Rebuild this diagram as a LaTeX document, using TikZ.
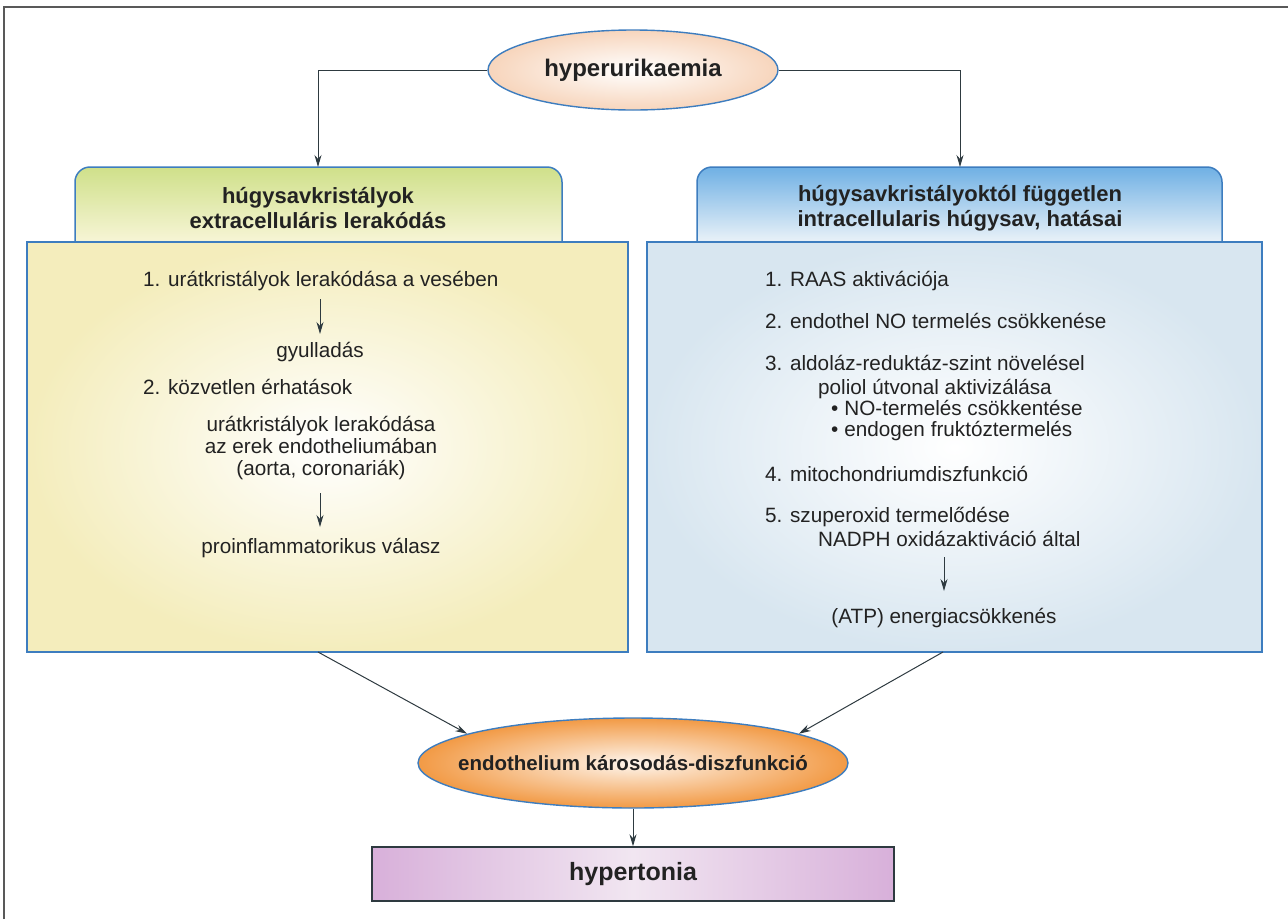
\documentclass[tikz,border=0pt]{standalone}
\usepackage{fontspec}
\setmainfont{Liberation Sans}
\usetikzlibrary{arrows.meta,shapes.geometric}
\definecolor{bblue}{HTML}{3D7DBF}
\definecolor{conn}{HTML}{2E3A40}
\definecolor{peach}{HTML}{F7D5BC}
\definecolor{orng}{HTML}{F29A45}
\definecolor{yel}{HTML}{F4EDBC}
\definecolor{lblue}{HTML}{D8E6F0}
\definecolor{hgreen}{HTML}{CFE08A}
\definecolor{hgreenb}{HTML}{F7F5D6}
\definecolor{hblue}{HTML}{6FB0E4}
\definecolor{hblueb}{HTML}{EAF2F8}
\definecolor{purp}{HTML}{D8B0DA}
\definecolor{purpm}{HTML}{F1E6F1}
\definecolor{txt}{HTML}{222222}
\begin{document}
\begin{tikzpicture}[x=1pt,y=-1pt,
  arr/.style={draw=conn,line width=1pt,-{Stealth[length=12pt,width=7pt]}},
  body/.style={font=\fontsize{20.7}{22}\selectfont,text=txt,inner sep=0pt,text height=14pt,text depth=4pt},
  cbody/.style={body,align=center,text height=,text depth=},
  title/.style={font=\bfseries\fontsize{22}{25}\selectfont,text=txt,align=center,inner sep=0pt},
  mainbox/.style={draw=bblue,line width=1.5pt,shading=radial,inner color=white,minimum width=#1,minimum height=410pt,inner sep=0pt},
  ell/.style={ellipse,draw=bblue,line width=1.4pt,shading=radial,inner sep=0pt},
  elltext/.style={text=txt,inner sep=0pt}
]
\useasboundingbox (0,0) rectangle (1288,919);
% outer frame (top and left only visible)
\draw[draw=gray!70!black,line width=1.4pt] (4,919) -- (4,7) -- (1288,7);

% top ellipse
\node[ell,inner color=white,outer color=peach,minimum width=290pt,minimum height=80pt] (hyp) at (633,70) {};
\node[elltext,font=\bfseries\fontsize{24}{28}\selectfont] (hyptxt) at (hyp.center) {hyperurikaemia};

% headers
\draw[bblue,line width=1.5pt,rounded corners=15pt,top color=hgreen,bottom color=hgreenb]
  (75,242) |- (318,167) -| (562,242);
\draw[bblue,line width=1.5pt,rounded corners=15pt,top color=hblue,bottom color=hblueb]
  (697,242) |- (960,167) -| (1222,242);
\coordinate (hdrLtop) at (318,167);
\coordinate (hdrRtop) at (960,167);
\node[title] (hdrL) at (318,208) {húgysavkristályok\\extracelluláris lerakódás};
\node[title] (hdrR) at (960,208) {húgysavkristályoktól független\\intracellularis húgysav, hatásai};

% main boxes
\node[mainbox=601pt,outer color=yel] (lbox) at (327.5,447) {};
\node[mainbox=615pt,outer color=lblue] (rbox) at (954.5,447) {};

% connectors from top ellipse
\draw[arr] (hyp.west) -| (hdrLtop);
\draw[arr] (hyp.east) -| (hdrRtop);

% left box content
\node[body,anchor=west] (l1) at (143,281) {1. urátkristályok lerakódása a vesében};
\node[cbody] (l1b) at (320,352) {gyulladás};
\node[body,anchor=west] (l2) at (143,389) {2. közvetlen érhatások};
\node[cbody] (l2a) at (321,448) {urátkristályok lerakódása\\az erek endotheliumában\\(aorta, coronariák)};
\node[cbody] (l2b) at (321,548) {proinflammatorikus válasz};
\coordinate (la1) at (320,299);
\coordinate (la2) at (320,334);
\coordinate (lb1) at (320,493);
\coordinate (lb2) at (320,527);
\draw[arr] (la1) -- (la2);
\draw[arr] (lb1) -- (lb2);

% right box content
\node[body,anchor=west] (r1) at (765,281) {1. RAAS aktivációja};
\node[body,anchor=west] (r2) at (765,323) {2. endothel NO termelés csökkenése};
\node[body,anchor=west] (r3) at (765,365) {3. aldoláz-reduktáz-szint növelésel};
\node[body,anchor=west] (r3a) at (818,389) {poliol útvonal aktivizálása};
\node[body,anchor=west] (r3b) at (831,410) {\textbullet\hspace{6pt}NO-termelés csökkentése};
\node[body,anchor=west] (r3c) at (831,431) {\textbullet\hspace{6pt}endogen fruktóztermelés};
\node[body,anchor=west] (r4) at (765,476) {4. mitochondriumdiszfunkció};
\node[body,anchor=west] (r5) at (765,517) {5. szuperoxid termelődése};
\node[body,anchor=west] (r5a) at (818,541) {NADPH oxidázaktiváció által};
\node[cbody] (r5b) at (944,618) {(ATP) energiacsökkenés};
\coordinate (ra1) at (944,557);
\coordinate (ra2) at (944,591);
\draw[arr] (ra1) -- (ra2);

% bottom ellipse and box
\node[ell,inner color=white!90!orng,outer color=orng,minimum width=430pt,minimum height=90pt] (endo) at (633,763) {};
\node[elltext,font=\bfseries\fontsize{20.5}{24}\selectfont] (endotxt) at (endo.center) {endothelium károsodás-diszfunkció};
\node[draw=conn,line width=1.4pt,shading=axis,left color=purp,right color=purp,middle color=purpm,
      minimum width=522pt,minimum height=54pt,inner sep=0pt,text=txt,
      font=\bfseries\fontsize{25}{28}\selectfont] (hyper) at (633,874) {hypertonia};

\coordinate (lout) at (318,652);
\coordinate (rout) at (943,652);
\draw[arr] (lout) -- (endo.170);
\draw[arr] (rout) -- (endo.10);
\draw[arr] (endo.south) -- (hyper.north);
\end{tikzpicture}
\end{document}
